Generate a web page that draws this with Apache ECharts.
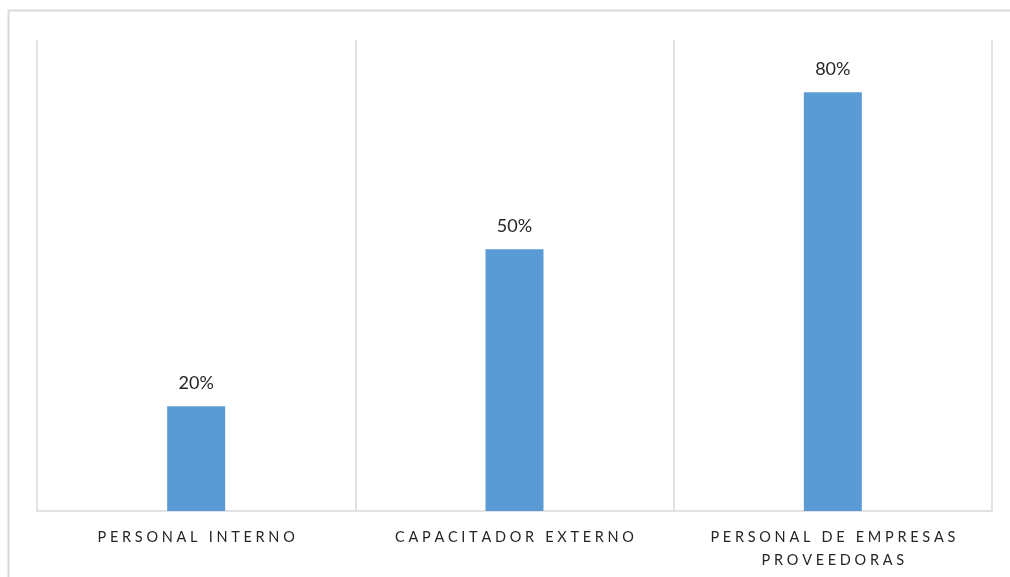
<!DOCTYPE html>
<html>
<head>
<meta charset="utf-8">
<script src="https://cdn.jsdelivr.net/npm/echarts@6/dist/echarts.min.js"></script>
<style>
  html, body { margin: 0; padding: 0; background: #fff; }
  #chart { width: 1010px; height: 577px; }
</style>
</head>
<body>
<div id="chart"></div>
<script>
// Categories and their share (fraction of respondents)
const categories = ['PERSONAL INTERNO', 'CAPACITADOR EXTERNO', 'PERSONAL DE EMPRESAS\nPROVEEDORAS'];
const values = [0.20, 0.50, 0.80];

// Spread capitals apart, like tracked caps
function track(s) {
  return s.split('\n').map(line =>
    line.split(' ').map(w => w.split('').join(' ')).join('   ')
  ).join('\n');
}

const chart = echarts.init(document.getElementById('chart'));
chart.setOption({
  animation: false,
  backgroundColor: '#ffffff',
  textStyle: { fontFamily: 'Lato, "Open Sans", sans-serif' },
  graphic: [{
    type: 'rect',
    shape: { x: 8.5, y: 10.5, width: 1020, height: 600 },
    style: { fill: 'none', stroke: '#d9d9d9', lineWidth: 2 },
    silent: true
  }],
  grid: { left: 37, right: 18, top: 40, bottom: 66 },
  xAxis: {
    type: 'category',
    data: categories,
    axisLine: { show: true, lineStyle: { color: '#d9d9d9', width: 1.5 } },
    axisTick: { show: false },
    splitLine: { show: true, lineStyle: { color: '#d9d9d9', width: 1.5 } },
    axisLabel: {
      color: '#262626',
      fontSize: 14.5,
      margin: 14.5,
      lineHeight: 23,
      interval: 0,
      formatter: v => track(v)
    }
  },
  yAxis: {
    type: 'value',
    min: 0,
    max: 0.9,
    show: false,
    splitLine: { show: false }
  },
  series: [{
    type: 'bar',
    data: values,
    barWidth: 58,
    itemStyle: { color: '#5b9bd5' },
    label: {
      show: true,
      position: 'top',
      distance: 14,
      color: '#262626',
      fontSize: 18,
      formatter: p => Math.round(p.value * 100) + '%'
    }
  }]
});
</script>
</body>
</html>
